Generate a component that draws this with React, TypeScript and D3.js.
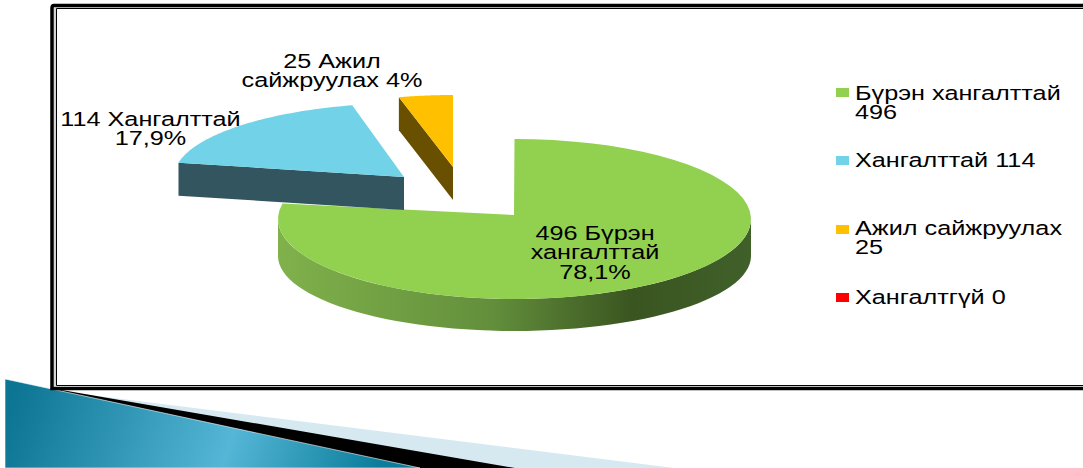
import { useMemo } from 'react'
import * as d3 from 'd3'

const WIDTH = 1083
const HEIGHT = 468

const categories = ['Бүрэн хангалттай', 'Хангалттай', 'Ажил сайжруулах', 'Хангалтгүй']
const values = [496, 114, 25, 0]
const colors = ['#92d050', '#72d3e8', '#ffc000', '#ff0000']
const sideColors = ['#5e8a3a', '#32555f', '#695000', '#800000']

const dataLabels = [
  ['496 Бүрэн', 'хангалттай', '78,1%'],
  ['114 Хангалттай', '17,9%'],
  ['25 Ажил', 'сайжруулах 4%'],
]
const legendLabels = [
  ['Бүрэн хангалттай', '496'],
  ['Хангалттай 114'],
  ['Ажил сайжруулах', '25'],
  ['Хангалтгүй 0'],
]

// tip of each slice (tx, ty) and the ellipse its rim follows after the tilt
const sliceLayout = [
  { tx: 514, ty: 215, cx: 514.5, cy: 219, rx: 236.5, ry: 80 },
  { tx: 404, ty: 177, cx: 410, cy: 177, rx: 236, ry: 74 },
  { tx: 453, ty: 167, cx: 453, cy: 168, rx: 221, ry: 73 },
]
const DEPTH = 33
// lower edge of the big slice's wall, flatter than its top edge
const RIM_BOTTOM = { cy: 256, ry: 75 }
const FONT_SIZE = 19.5
const TEXT_STRETCH = 1.295
const LINE_HEIGHT = 19.5
const labelPos = [
  { x: 595, y: 240 },
  { x: 150.5, y: 126 },
  { x: 332, y: 68 },
]
const legendPos = [
  { y: 88, ty: 100 },
  { y: 156, ty: 167 },
  { y: 225, ty: 235 },
  { y: 293, ty: 304 },
]
const FONT = '"Liberation Sans", Arial, sans-serif'

export default function App() {
  const arcs = useMemo(() => d3.pie<number>().sort(null).value((d) => d)(values), [])

  const rimPoint = (i: number, t: number): [number, number] => {
    const l = sliceLayout[i]
    return [l.cx + l.rx * Math.sin(t), l.cy - l.ry * Math.cos(t)]
  }

  const sliceOutline = (i: number) => {
    const a = arcs[i]
    const l = sliceLayout[i]
    const pts = d3.range(0, 61).map((s) => rimPoint(i, a.startAngle + ((a.endAngle - a.startAngle) * s) / 60))
    return d3.line()([[l.tx, l.ty], ...pts]) + 'Z'
  }

  // front wall of the big slice: lower half of the rim only
  const rimWall = () => {
    const angles = d3.range(0, 61).map((s) => Math.PI / 2 + (Math.PI * s) / 60)
    const top = angles.map((t) => rimPoint(0, t))
    const bottom = [...angles].reverse().map((t) => {
      const l = sliceLayout[0]
      return [l.cx + l.rx * Math.sin(t), RIM_BOTTOM.cy - RIM_BOTTOM.ry * Math.cos(t)] as [number, number]
    })
    return d3.line()([...top, ...bottom]) + 'Z'
  }

  const wall = (i: number) => {
    const l = sliceLayout[i]
    const [ex, ey] = rimPoint(i, arcs[i].startAngle)
    return d3.line()([
      [l.tx, l.ty],
      [ex, ey],
      [ex, ey + DEPTH],
      [l.tx, l.ty + DEPTH],
    ]) + 'Z'
  }

  return (
    <svg width={WIDTH} height={HEIGHT} style={{ position: 'absolute', left: 0, top: 0, background: '#fff' }} fontFamily={FONT}>
      <defs>
        <linearGradient id="rim" x1="279" x2="751" y1="0" y2="0" gradientUnits="userSpaceOnUse">
          <stop offset="0" stopColor="#80b14b" />
          <stop offset="0.45" stopColor="#638f3c" />
          <stop offset="0.75" stopColor="#3a5520" />
          <stop offset="1" stopColor="#40602a" />
        </linearGradient>
        <linearGradient id="teal" x1="20" y1="375" x2="370" y2="490" gradientUnits="userSpaceOnUse">
          <stop offset="0" stopColor="#0c7593" />
          <stop offset="0.6" stopColor="#55b6d6" />
          <stop offset="1" stopColor="#0b7d9b" />
        </linearGradient>
      </defs>

      <polygon points="50,390 674,468 50,468" fill="#d6e8f0" />
      <polygon points="50,388 515,468 50,468" fill="#000" />
      <polygon points="5,379 420,468 5,468" fill="url(#teal)" stroke="#fff" strokeWidth={0.6} />

      <path d="M1083,5.5 H54 Q52,5.5 52,8 V388.5 H1083" fill="#fff" stroke="#000" strokeWidth={3.5} />
      <path d="M1083,7.5 H55 V386.5" fill="none" stroke="#aaa" strokeWidth={1} />
      <path d="M1083,8.5 H56.5 V385.5 H1083" fill="none" stroke="#000" strokeWidth={1} />

      <path d={rimWall()} fill="url(#rim)" />
      <path d={sliceOutline(0)} fill={colors[0]} />
      <path d={wall(1)} fill={sideColors[1]} />
      <path d={sliceOutline(1)} fill={colors[1]} />
      <path d={wall(2)} fill={sideColors[2]} />
      <path d={sliceOutline(2)} fill={colors[2]} />

      {dataLabels.map((lines, i) => (
        <text key={i} textAnchor="middle" fontSize={FONT_SIZE} fill="#000" transform={`translate(${labelPos[i].x},0) scale(${TEXT_STRETCH},1)`}>
          {lines.map((line, j) => (
            <tspan key={j} x={0} y={labelPos[i].y + j * LINE_HEIGHT}>{line}</tspan>
          ))}
        </text>
      ))}

      {legendLabels.map((lines, i) => (
        <g key={categories[i]}>
          <rect x={836} y={legendPos[i].y} width={13} height={9} fill={colors[i]} />
          <text fontSize={FONT_SIZE} fill="#000" transform={`translate(855,0) scale(${TEXT_STRETCH},1)`}>
            {lines.map((line, j) => (
              <tspan key={j} x={0} y={legendPos[i].ty + j * LINE_HEIGHT}>{line}</tspan>
            ))}
          </text>
        </g>
      ))}
    </svg>
  )
}
